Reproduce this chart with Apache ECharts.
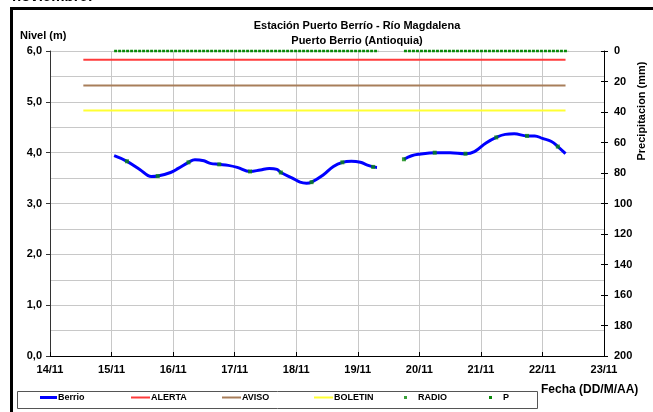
<!DOCTYPE html>
<html>
<head>
<meta charset="utf-8">
<script src="https://cdn.jsdelivr.net/npm/echarts@6/dist/echarts.min.js"></script>
<style>
  html, body { margin: 0; padding: 0; background: #fff; }
  #main { width: 653px; height: 412px; }
</style>
</head>
<body>
<div id="main"></div>
<script>
// nivel del rio (m), horas
var berrioT = ['15/11 01:00', '15/11 06:00', '15/11 11:00', '15/11 15:30', '15/11 18:00', '15/11 23:00',
  '16/11 02:00', '16/11 06:00', '16/11 08:30', '16/11 12:00', '16/11 14:30', '16/11 18:00', '16/11 21:30',
  '17/11 01:00', '17/11 06:00', '17/11 10:00', '17/11 13:30', '17/11 16:30', '17/11 18:00', '17/11 22:30',
  '18/11 01:30', '18/11 04:00', '18/11 06:00', '18/11 10:30', '18/11 14:30', '18/11 18:00', '18/11 21:30',
  '19/11 01:00', '19/11 03:30', '19/11 06:00', '19/11 07:30',
  '19/11 12:00',
  '19/11 18:00', '19/11 21:00', '20/11 00:00', '20/11 06:00', '20/11 12:00', '20/11 18:00', '20/11 21:30',
  '21/11 02:00', '21/11 06:00', '21/11 09:30', '21/11 13:00', '21/11 18:00', '21/11 21:00',
  '22/11 00:00', '22/11 03:30', '22/11 06:00', '22/11 09:00'];
var berrioH = [3.94, 3.83, 3.67, 3.53, 3.54, 3.61,
  3.69, 3.81, 3.86, 3.84, 3.79, 3.77, 3.75,
  3.71, 3.63, 3.66, 3.69, 3.67, 3.61, 3.50,
  3.42, 3.40, 3.42, 3.56, 3.73, 3.81, 3.83,
  3.81, 3.76, 3.72, 3.71,
  null,
  3.87, 3.94, 3.97, 4.00, 4.00, 3.98, 4.02,
  4.19, 4.30, 4.36, 4.37, 4.33, 4.33,
  4.28, 4.22, 4.12, 3.98];

// lecturas por radio
var radioT = ['15/11 06:00', '15/11 18:00', '16/11 06:00', '16/11 18:00', '17/11 06:00', '17/11 18:00',
  '18/11 06:00', '18/11 18:00', '19/11 06:00', '19/11 18:00', '20/11 06:00', '20/11 18:00',
  '21/11 06:00', '21/11 18:00', '22/11 06:00'];
var radioH = [3.83, 3.54, 3.81, 3.77, 3.63, 3.61, 3.42, 3.81, 3.72, 3.87, 4.00, 3.98, 4.30, 4.33, 4.12];

// umbrales
var umbralT = ['14/11 13:00', '22/11 09:00'];
var alerta = 5.83;
var aviso = 5.32;
var boletin = 4.83;

// precipitacion (mm)
var precT = ['15/11 01:00', '19/11 08:00', '19/11 12:00', '19/11 18:00', '22/11 10:00'];
var precV = [0, 0, null, 0, 0];

var fechas = [14, 15, 16, 17, 18, 19, 20, 21, 22, 23];

var colores = {
  Berrio: '#0000ff', ALERTA: '#ff3b3b', AVISO: '#a87e5a', BOLETIN: '#ffff33', RADIO: '#0a8a0a', P: '#0a8a0a'
};

// 'DD/11 HH:MM' -> dia con fraccion
function dia(t) {
  var p = t.split(' ');
  var hm = p[1].split(':');
  return parseInt(p[0].split('/')[0], 10) + (parseInt(hm[0], 10) + parseInt(hm[1], 10) / 60) / 24;
}
function pares(ts, vs) {
  return ts.map(function (t, i) { return [dia(t), vs[i] == null ? '-' : vs[i]]; });
}
function umbral(v) {
  return umbralT.map(function (t) { return [dia(t), v]; });
}

var FONT = 'Liberation Sans, Arial, sans-serif';
var chart = echarts.init(document.getElementById('main'), null, { renderer: 'canvas' });

function leyenda(name, left, w, h, gap) {
  return {
    data: [{ name: name, icon: 'rect', itemStyle: { color: colores[name], borderWidth: 0 } }],
    left: left, top: 393, itemWidth: w, itemHeight: h, itemGap: 0,
    padding: 0, selectedMode: false,
    textStyle: { fontFamily: FONT, fontSize: 9, fontWeight: 'bold', color: '#000', padding: [0, 0, 0, gap] }
  };
}

var option = {
  animation: false,
  backgroundColor: '#fff',
  title: {
    text: 'Estación Puerto Berrío - Río Magdalena\nPuerto Berrio (Antioquia)',
    left: 352, top: 13, textAlign: 'center',
    textStyle: { fontFamily: FONT, fontSize: 11, fontWeight: 'bold', color: '#000', lineHeight: 15 }
  },
  legend: [
    leyenda('Berrio', 40, 17, 3, -4),
    leyenda('ALERTA', 131, 19, 2, -4),
    leyenda('AVISO', 222, 19, 2, -4),
    leyenda('BOLETIN', 314, 19, 2, -4),
    leyenda('RADIO', 404, 3, 3, 6),
    leyenda('P', 489, 3, 3, 6)
  ],
  grid: { left: 50, right: 49, top: 51, bottom: 56 },
  xAxis: {
    type: 'value', min: 14, max: 23, interval: 1,
    axisLine: { lineStyle: { color: '#000', width: 1 } },
    axisTick: { show: true, length: 4, inside: true, lineStyle: { color: '#000' } },
    axisLabel: {
      margin: 8, fontFamily: FONT, fontSize: 11, fontWeight: 'bold', color: '#000',
      formatter: function (v) { return fechas.indexOf(v) >= 0 ? v + '/11' : ''; }
    },
    splitLine: { show: true, lineStyle: { color: '#c8c8c8', width: 1 } }
  },
  yAxis: [
    {
      type: 'value', min: 0, max: 6, interval: 1,
      axisLine: { show: true, lineStyle: { color: '#333' } },
      axisTick: { show: true, length: 4, lineStyle: { color: '#333' } },
      axisLabel: {
        margin: 8, fontFamily: FONT, fontSize: 11, fontWeight: 'bold', color: '#000',
        formatter: function (v) { return v.toFixed(1).replace('.', ','); }
      },
      splitLine: { show: true, lineStyle: { color: '#c8c8c8' } },
      minorTick: { show: false, splitNumber: 2 },
      minorSplitLine: { show: true, lineStyle: { color: '#c8c8c8' } }
    },
    {
      type: 'value', min: 0, max: 200, interval: 20, inverse: true, position: 'right',
      axisLine: { show: true, lineStyle: { color: '#000' } },
      axisTick: { show: true, length: 4, lineStyle: { color: '#000' } },
      axisLabel: { margin: 10, fontFamily: FONT, fontSize: 11, fontWeight: 'bold', color: '#000' },
      splitLine: { show: false }
    },
    {
      type: 'value', min: 0, max: 200, interval: 20, inverse: true, position: 'right',
      axisLine: { show: false },
      axisTick: { show: true, inside: true, length: 3, lineStyle: { color: '#000' } },
      axisLabel: { show: false },
      splitLine: { show: false }
    }
  ],
  graphic: [
    { type: 'rect', shape: { x: 10, y: 7, width: 3, height: 410 }, style: { fill: '#000' } },
    { type: 'rect', shape: { x: 10, y: 7, width: 650, height: 3 }, style: { fill: '#000' } },
    { type: 'text', left: 12, top: -11, style: { text: 'noviembre:', font: 'bold 15px ' + FONT, fill: '#000' } },
    { type: 'text', left: 20, top: 30, style: { text: 'Nivel (m)', font: 'bold 11px ' + FONT, fill: '#000' } },
    { type: 'text', left: 541, top: 384, style: { text: 'Fecha (DD/M/AA)', font: 'bold 12px ' + FONT, fill: '#000' } },
    {
      type: 'text', x: 642, y: 111, rotation: Math.PI / 2,
      style: { text: 'Precipitacion (mm)', font: 'bold 11px ' + FONT, fill: '#000', align: 'center', verticalAlign: 'middle' }
    },
    { type: 'rect', shape: { x: 17.5, y: 391.5, width: 520, height: 17 }, style: { fill: 'none', stroke: '#555', lineWidth: 1 }, z: -1 }
  ],
  series: [
    {
      name: 'ALERTA', type: 'line', data: umbral(alerta), showSymbol: false, silent: true,
      lineStyle: { color: colores.ALERTA, width: 2 }, itemStyle: { color: colores.ALERTA }
    },
    {
      name: 'AVISO', type: 'line', data: umbral(aviso), showSymbol: false, silent: true,
      lineStyle: { color: colores.AVISO, width: 2 }, itemStyle: { color: colores.AVISO }
    },
    {
      name: 'BOLETIN', type: 'line', data: umbral(boletin), showSymbol: false, silent: true,
      lineStyle: { color: colores.BOLETIN, width: 2 }, itemStyle: { color: colores.BOLETIN }
    },
    {
      name: 'Berrio', type: 'line', data: pares(berrioT, berrioH), smooth: 0.4, showSymbol: false,
      connectNulls: false, lineStyle: { color: colores.Berrio, width: 3 }, itemStyle: { color: colores.Berrio }, z: 3
    },
    {
      name: 'RADIO', type: 'scatter', data: pares(radioT, radioH), symbol: 'rect', symbolSize: 4,
      itemStyle: { color: colores.RADIO }, z: 4
    },
    {
      name: 'P', type: 'line', yAxisIndex: 1, data: pares(precT, precV), showSymbol: false, clip: false,
      connectNulls: false, lineStyle: { color: colores.P, width: 2.5, type: [3, 1] }, itemStyle: { color: colores.P }, z: 4
    }
  ]
};

chart.setOption(option);
window.onresize = function () { chart.resize(); };
</script>
</body>
</html>
